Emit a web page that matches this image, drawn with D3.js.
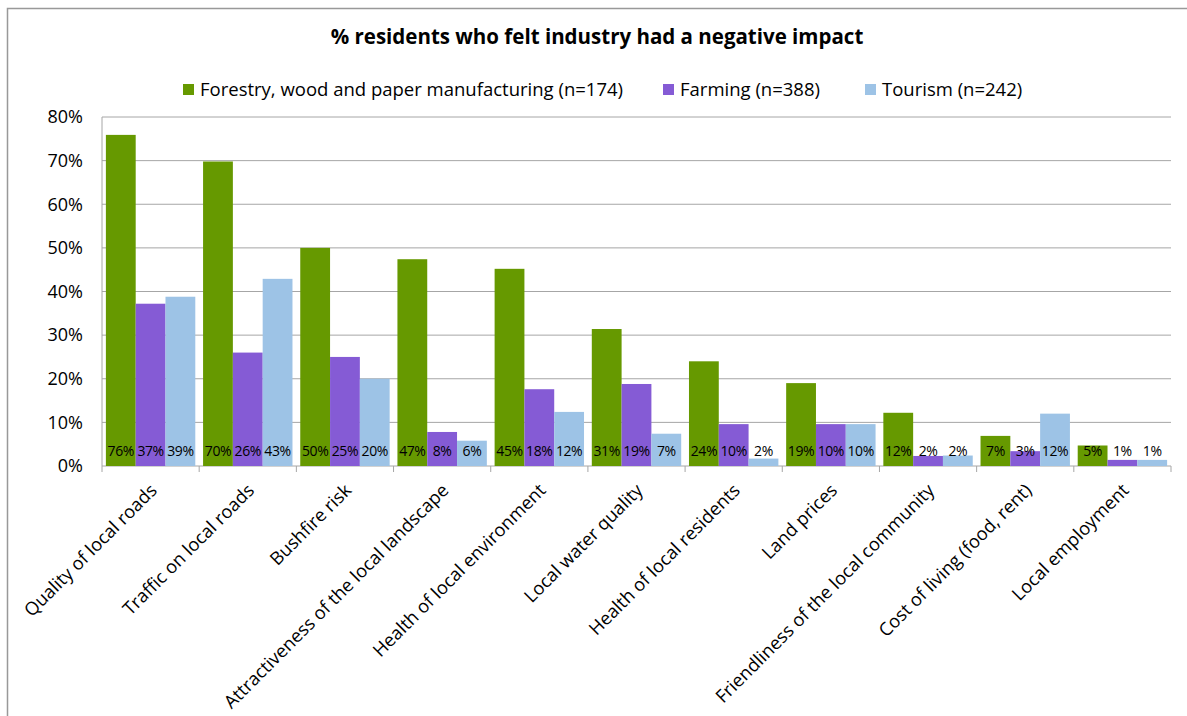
<!DOCTYPE html>
<html>
<head>
<meta charset="utf-8">
<script src="https://cdn.jsdelivr.net/npm/d3@7"></script>
<style>
  body { margin: 0; background: #fff; }
  svg text { font-family: "Open Sans", Lato, sans-serif; fill: #000; }
</style>
</head>
<body>
<div id="chart"></div>
<script>
// data
var categories = ["Quality of local roads", "Traffic on local roads", "Bushfire risk",
  "Attractiveness of the local landscape", "Health of local environment", "Local water quality",
  "Health of local residents", "Land prices", "Friendliness of the local community",
  "Cost of living (food, rent)", "Local employment"];
var seriesNames = ["Forestry, wood and paper manufacturing (n=174)", "Farming (n=388)", "Tourism (n=242)"];
var forestry = [75.9, 69.8, 50.0, 47.4, 45.2, 31.4, 24.0, 19.0, 12.2, 6.9, 4.7];
var farming  = [37.2, 26.0, 25.0, 7.8, 17.6, 18.8, 9.6, 9.6, 2.3, 3.4, 1.4];
var tourism  = [38.8, 42.9, 20.0, 5.8, 12.4, 7.4, 1.7, 9.6, 2.4, 12.0, 1.4];
var yTicks = [0, 10, 20, 30, 40, 50, 60, 70, 80];
var colors = ["#669900", "#855BD5", "#9DC3E6"];

var W = 1187, H = 716;
var margin = {top: 117, right: 16, bottom: 250, left: 102};
var width = W - margin.left - margin.right;
var height = H - margin.top - margin.bottom;

var svg = d3.select("#chart").append("svg")
  .attr("width", W).attr("height", H);

// outer chart border (only left/top in view)
svg.append("rect")
  .attr("x", 7.5).attr("y", 8.5)
  .attr("width", W + 10).attr("height", H + 10)
  .style("fill", "none").style("stroke", "#999").style("stroke-width", 1.5);

svg.append("text")
  .attr("x", 597).attr("y", 44)
  .style("text-anchor", "middle")
  .style("font-size", "20.5px").style("font-weight", "bold")
  .text("% residents who felt industry had a negative impact");

// legend
var legendX = [183, 663, 865];
var legend = svg.selectAll(".legendItem")
  .data(seriesNames)
  .enter().append("g")
  .attr("class", "legendItem")
  .attr("transform", (d, i) => "translate(" + legendX[i] + ",90)");
legend.append("rect")
  .attr("x", 0).attr("y", -6).attr("width", 11).attr("height", 11)
  .style("fill", (d, i) => colors[i]);
legend.append("text")
  .attr("x", 17).attr("y", 0).attr("dy", "0.35em")
  .style("font-size", "18.5px")
  .text(d => d);

var g = svg.append("g")
  .attr("transform", "translate(" + margin.left + "," + margin.top + ")");

var x0 = d3.scaleBand().domain(categories).range([0, width]).paddingInner(0.08).paddingOuter(0.04);
var x1 = d3.scaleBand().domain([0, 1, 2]).range([0, x0.bandwidth()]);
var y = d3.scaleLinear().domain([0, 80]).range([height, 0]);

// gridlines
g.selectAll(".grid")
  .data(yTicks)
  .enter().append("line")
  .attr("x1", 0).attr("x2", width)
  .attr("y1", d => y(d)).attr("y2", d => y(d))
  .style("stroke", "#a6a6a6").style("stroke-width", 1);

// y labels
g.selectAll(".ylab")
  .data(yTicks)
  .enter().append("text")
  .attr("x", -19).attr("y", d => y(d)).attr("dy", "0.35em")
  .style("text-anchor", "end").style("font-size", "18px")
  .text(d => d + "%");

// axes lines
g.append("line").attr("x1", 0).attr("x2", 0).attr("y1", 0).attr("y2", height)
  .style("stroke", "#a6a6a6");
var step = width / categories.length;
g.selectAll(".xtick")
  .data(d3.range(categories.length + 1))
  .enter().append("line")
  .attr("x1", d => d * step).attr("x2", d => d * step)
  .attr("y1", height).attr("y2", height + 6)
  .style("stroke", "#a6a6a6");

var rows = categories.map((c, i) => ({cat: c, vals: [forestry[i], farming[i], tourism[i]]}));

var groups = g.selectAll(".grp")
  .data(rows)
  .enter().append("g")
  .attr("transform", d => "translate(" + x0(d.cat) + ",0)");

groups.selectAll("rect")
  .data(d => d.vals)
  .enter().append("rect")
  .attr("x", (d, i) => x1(i))
  .attr("width", x1.bandwidth())
  .attr("y", d => y(d))
  .attr("height", d => height - y(d))
  .style("fill", (d, i) => colors[i]);

groups.selectAll(".val")
  .data(d => d.vals)
  .enter().append("text")
  .attr("x", (d, i) => x1(i) + x1.bandwidth() / 2)
  .attr("y", height - 15).attr("dy", "0.35em")
  .style("text-anchor", "middle").style("font-size", "14px")
  .style("letter-spacing", "-0.4px")
  .text(d => Math.round(d) + "%");

// category labels
g.selectAll(".xlab")
  .data(categories)
  .enter().append("text")
  .attr("transform", d => "translate(" + (x0(d) + x0.bandwidth() / 2 + 3) + "," + (height + 21) + ") rotate(-45)")
  .style("text-anchor", "end").style("font-size", "18.2px")
  .attr("dy", "0.35em")
  .text(d => d);
</script>
</body>
</html>
